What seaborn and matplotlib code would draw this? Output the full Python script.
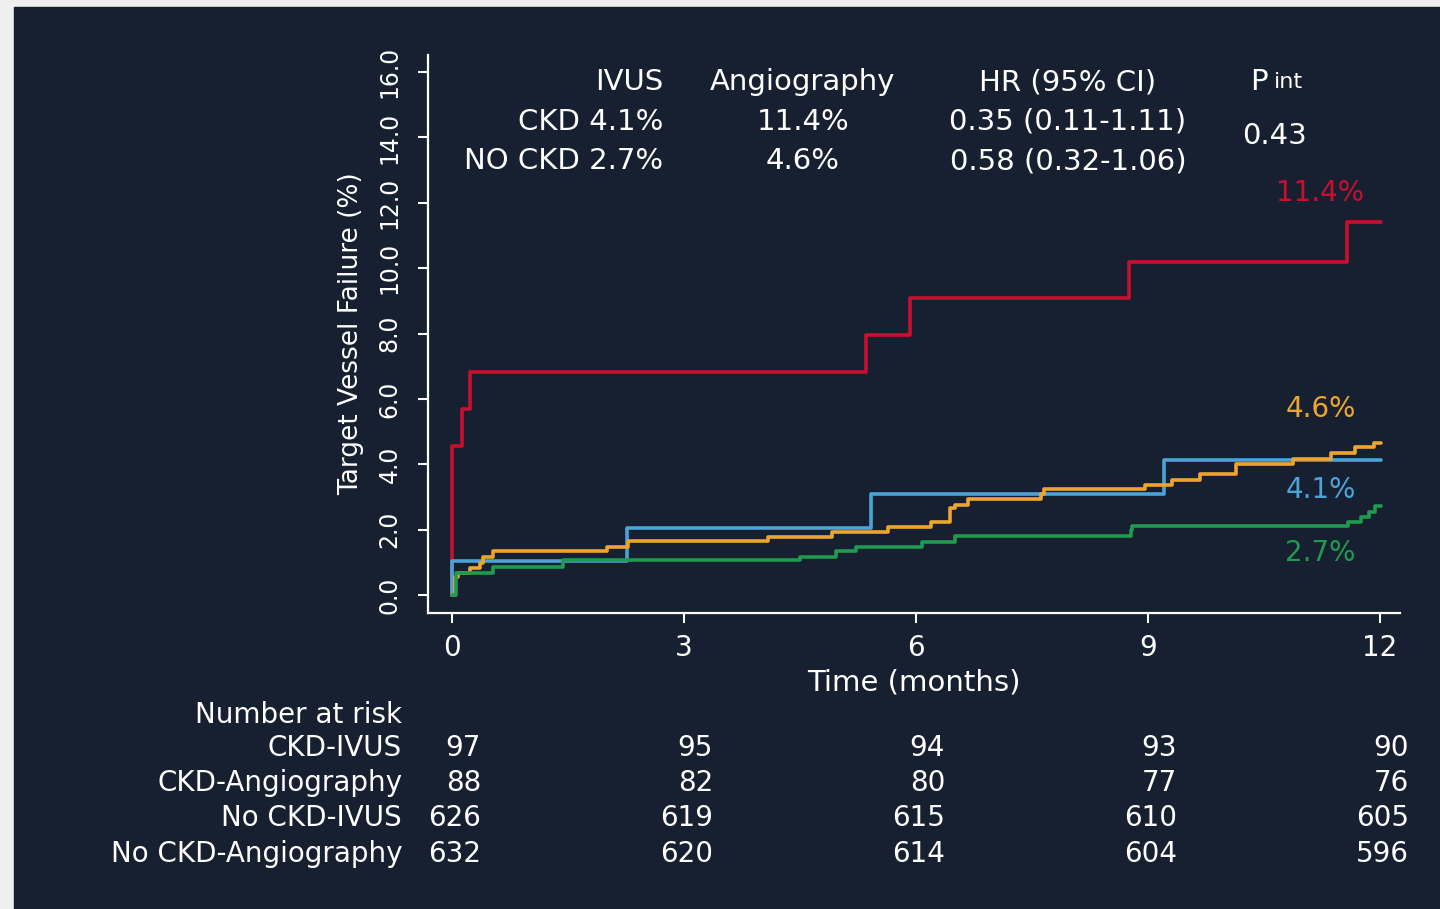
import matplotlib
matplotlib.use("Agg")
import matplotlib.pyplot as plt
import seaborn as sns
import pandas as pd

# Kaplan-Meier style cumulative incidence (%)
red_t = [0, 0, 0.125, 0.24, 5.36, 5.92, 8.75, 11.57, 12.02]
red_y = [0, 4.55, 5.68, 6.82, 7.95, 9.08, 10.2, 11.4, 11.4]

blue_t = [0, 0, 2.26, 5.42, 9.21, 12.02]
blue_y = [0, 1.03, 2.06, 3.09, 4.12, 4.12]

orange_t = [0, 0.04, 0.08, 0.23, 0.36, 0.40, 0.53, 2.0, 2.28, 4.09, 4.91, 5.64, 6.19,
            6.44, 6.50, 6.68, 7.62, 7.66, 8.96, 9.31, 9.67, 10.14, 10.88, 11.37,
            11.68, 11.93, 12.02]
orange_y = [0, 0.54, 0.66, 0.82, 0.97, 1.17, 1.36, 1.48, 1.66, 1.78, 1.94, 2.09, 2.24,
            2.65, 2.75, 2.93, 3.09, 3.24, 3.36, 3.52, 3.69, 4.0, 4.15, 4.35,
            4.52, 4.66, 4.66]

green_t = [0, 0.05, 0.53, 1.44, 4.5, 4.97, 5.23, 6.08, 6.50, 8.78, 8.80, 11.59,
           11.75, 11.86, 11.94, 12.02]
green_y = [0, 0.66, 0.85, 1.07, 1.17, 1.36, 1.48, 1.63, 1.80, 1.99, 2.11, 2.24,
           2.40, 2.55, 2.72, 2.72]

groups = ["CKD-Angiography", "CKD-IVUS", "No CKD-Angiography", "No CKD-IVUS"]
colors = ["#c8102e", "#4ba3d8", "#eea52f", "#1f9a4e"]
end_labels = ["11.4%", "4.1%", "4.6%", "2.7%"]
end_label_y = [12.3, 3.21, 5.69, 1.28]

# number at risk table
risk_times = [0, 3, 6, 9, 12]
risk_rows = ["CKD-IVUS", "CKD-Angiography", "No CKD-IVUS", "No CKD-Angiography"]
risk_ckd_ivus = [97, 95, 94, 93, 90]
risk_ckd_angio = [88, 82, 80, 77, 76]
risk_no_ivus = [626, 619, 615, 610, 605]
risk_no_angio = [632, 620, 614, 604, 596]

BG = "#172030"
FG = "white"

df = pd.concat([
    pd.DataFrame({"t": red_t, "y": red_y, "group": groups[0]}),
    pd.DataFrame({"t": blue_t, "y": blue_y, "group": groups[1]}),
    pd.DataFrame({"t": orange_t, "y": orange_y, "group": groups[2]}),
    pd.DataFrame({"t": green_t, "y": green_y, "group": groups[3]}),
])

sns.set_style("white")
plt.rcParams["font.family"] = ["DejaVu Sans"]

fig = plt.figure(figsize=(14.4, 9.09), dpi=100)
fig.patch.set_facecolor("#efefef")
fig.add_artist(plt.Rectangle((14 / 1440, 0), 1, 1 - 7 / 909, transform=fig.transFigure,
                             color=BG, zorder=-1))
ax = fig.add_axes([0.2972, 0.3256, 0.675, 0.6139])
ax.set_facecolor(BG)

sns.lineplot(data=df, x="t", y="y", hue="group", hue_order=groups,
             palette=dict(zip(groups, colors)), estimator=None,
             drawstyle="steps-post", linewidth=2.6, legend=False, ax=ax)

ax.set_xlim(-0.31, 12.26)
ax.set_ylim(-0.55, 16.52)
ax.set_xticks(risk_times)
ax.set_yticks([0, 2, 4, 6, 8, 10, 12, 14, 16])
ax.set_yticklabels([f"{v:.1f}" for v in [0, 2, 4, 6, 8, 10, 12, 14, 16]],
                   rotation=90, va="center")
for side in ["top", "right"]:
    ax.spines[side].set_visible(False)
for side in ["left", "bottom"]:
    ax.spines[side].set_color(FG)
    ax.spines[side].set_linewidth(1.6)
ax.tick_params(axis="both", colors=FG, direction="out", length=7, width=1.5,
               left=True, bottom=True)
ax.tick_params(axis="x", labelsize=20, pad=8)
ax.tick_params(axis="y", labelsize=17, pad=12)
ax.set_xlabel("Time (months)", color=FG, fontsize=21, labelpad=5)
ax.set_ylabel("Target Vessel Failure (%)", color=FG, fontsize=19, labelpad=10)

# end-of-curve labels
for lab, yy, c in zip(end_labels, end_label_y, colors):
    ax.text(11.23, yy, lab, color=c, fontsize=20, ha="center", va="center")

# summary table at top
tk = dict(color=FG, fontsize=21, transform=ax.transAxes, va="center")
ax.text(0.2418, 0.9516, "IVUS", ha="right", **tk)
ax.text(0.3858, 0.9516, "Angiography", ha="center", **tk)
ax.text(0.6584, 0.9516, "HR (95% CI)", ha="center", **tk)
ax.text(0.864, 0.9516, "P", ha="right", **tk)
ax.text(0.870, 0.9516, "int", ha="left", color=FG, fontsize=16, transform=ax.transAxes,
        va="center")
ax.text(0.2418, 0.880, "CKD 4.1%", ha="right", **tk)
ax.text(0.3858, 0.880, "11.4%", ha="center", **tk)
ax.text(0.6584, 0.880, "0.35 (0.11-1.11)", ha="center", **tk)
ax.text(0.2418, 0.810, "NO CKD 2.7%", ha="right", **tk)
ax.text(0.3858, 0.810, "4.6%", ha="center", **tk)
ax.text(0.6584, 0.810, "0.58 (0.32-1.06)", ha="center", **tk)
ax.text(0.8714, 0.855, "0.43", ha="center", **tk)

# number at risk
row_y = [-0.2419, -0.3047, -0.3674, -0.4319]
rk = dict(color=FG, fontsize=20, va="center")
ax.text(-0.0267, -0.1828, "Number at risk", ha="right", transform=ax.transAxes, **rk)
for name, yy, vals in zip(risk_rows, row_y,
                          [risk_ckd_ivus, risk_ckd_angio, risk_no_ivus, risk_no_angio]):
    ax.text(-0.0267, yy, name, ha="right", transform=ax.transAxes, **rk)
    for t, v in zip(risk_times, vals):
        ax.annotate(str(v), xy=(t, yy), xycoords=("data", "axes fraction"),
                    xytext=(21, 0), textcoords="offset points", ha="right",
                    annotation_clip=False, **rk)

fig.savefig("out.png", dpi=100, facecolor=fig.get_facecolor())
